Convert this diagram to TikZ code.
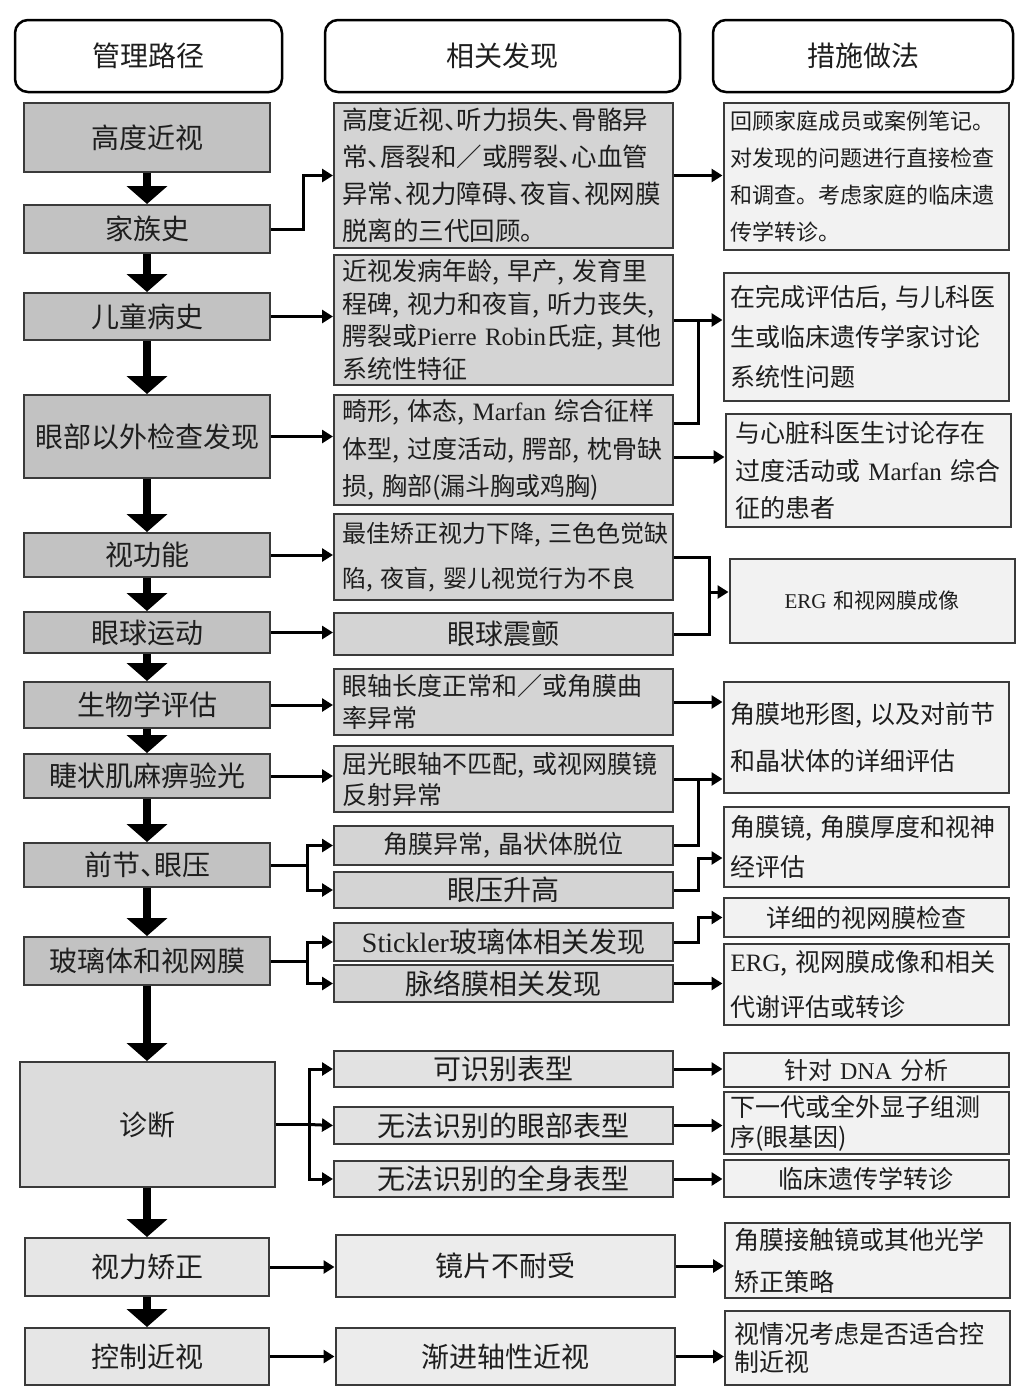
\documentclass[tikz,border=0pt]{standalone}
\usepackage{fontspec}
\setmainfont{Noto Sans CJK SC}
\newfontfamily\westfont{Liberation Serif}
\usetikzlibrary{arrows.meta}

\definecolor{ink}{HTML}{1E1E1E}
\definecolor{edge}{HTML}{3A3A3A}
\definecolor{pathfill}{HTML}{C2C2C2}
\definecolor{diagfill}{HTML}{DCDCDC}
\definecolor{lowfill}{HTML}{E6E6E6}
\definecolor{findfill}{HTML}{D4D4D4}
\definecolor{findlow}{HTML}{E2E2E2}
\definecolor{findlast}{HTML}{ECECEC}
\definecolor{actfill}{HTML}{F2F2F2}

% enumeration comma, half width
\newcommand{\dn}{\makebox[0.5em][l]{、}}

\begin{document}
\begin{tikzpicture}[x=1pt,y=-1pt,
  every node/.style={text=ink},
  head/.style={draw=black, line width=2.5pt, rounded corners=13pt, fill=white,
    minimum height=72pt, inner sep=0pt, font=\fontsize{28pt}{30pt}\selectfont},
  pathbox/.style={draw=edge, line width=2pt, fill=pathfill, inner sep=0pt,
    minimum width=246pt, font=\fontsize{28pt}{30pt}\selectfont},
  findbox/.style={draw=edge, line width=2pt, fill=findfill, inner xsep=8pt, inner ysep=0pt,
    minimum width=339pt, text width=323pt, align=left, font=\fontsize{25pt}{37pt}\selectfont},
  actbox/.style={draw=edge, line width=2pt, fill=actfill, inner xsep=7pt, inner ysep=0pt,
    minimum width=285pt, text width=271pt, align=left, font=\fontsize{25pt}{40pt}\selectfont},
  big/.style={font=\fontsize{28pt}{30pt}\selectfont, align=center},
  flow/.style={line width=3pt, -{Triangle[width=13pt,length=11pt]}},
  link/.style={line width=3pt},
  down/.style={line width=8pt, -{Triangle[width=40pt,length=18pt]}}
]
\path[fill=white] (0,0) rectangle (1029,1395);
\useasboundingbox (0,0) rectangle (1029,1395);

% 表头
\node[head, minimum width=267pt] (h1) at (148.5,56) {管理路径};
\node[head, minimum width=355pt] (h2) at (502.5,56) {相关发现};
\node[head, minimum width=300pt] (h3) at (863,56) {措施做法};

% 管理路径
\node[pathbox, minimum height=69pt] (myo) at (147,137.5) {高度近视};
\node[pathbox, minimum height=48pt] (fam) at (147,229) {家族史};
\node[pathbox, minimum height=47pt] (child) at (147,316.5) {儿童病史};
\node[pathbox, minimum height=83pt] (extra) at (147,436.5) {眼部以外检查发现};
\node[pathbox, minimum height=44pt] (vis) at (147,555) {视功能};
\node[pathbox, minimum height=41pt] (mot) at (147,632.5) {眼球运动};
\node[pathbox, minimum height=46pt] (bio) at (147,705) {生物学评估};
\node[pathbox, minimum height=44pt] (refr) at (147,776) {睫状肌麻痹验光};
\node[pathbox, minimum height=44pt] (ant) at (147,865) {前节\dn 眼压};
\node[pathbox, minimum height=48pt] (vit) at (147,961) {玻璃体和视网膜};
\node[pathbox, fill=diagfill, minimum width=255pt, minimum height=125pt] (diag) at (147,1124.5) {诊断};
\node[pathbox, fill=lowfill, minimum width=244pt, minimum height=58pt] (corr) at (147,1267) {视力矫正};
\node[pathbox, fill=lowfill, minimum width=244pt, minimum height=57pt] (ctrl) at (147,1356.5) {控制近视};

% 相关发现
\node[findbox, minimum height=145pt, font=\fontsize{25.5pt}{37pt}\selectfont] (f1) at (503.5,175.5)
  {高度近视\dn 听力损失\dn 骨骼异\\常\dn 唇裂和／或腭裂\dn 心血管\\异常\dn 视力障碍\dn 夜盲\dn 视网膜\\脱离的三代回顾。};
\node[findbox, minimum height=130pt, font=\fontsize{25pt}{32.5pt}\selectfont] (f2) at (503.5,320)
  {近视发病年龄,~早产,~发育里\\程碑,~视力和夜盲,~听力丧失,\\腭裂或{\westfont Pierre Robin}氏症,~其他\\系统性特征};
\node[findbox, minimum height=110pt, font=\fontsize{25pt}{37.5pt}\selectfont] (f3) at (503.5,450)
  {畸形,~体态,~{\westfont Marfan}~综合征样\\体型,~过度活动,~腭部,~枕骨缺\\损,~胸部(漏斗胸或鸡胸)};
\node[findbox, minimum height=86pt, font=\fontsize{24pt}{45pt}\selectfont] (f4) at (503.5,557)
  {最佳矫正视力下降,~三色色觉缺\\陷,~夜盲,~婴儿视觉行为不良};
\node[findbox, big, minimum height=42pt] (f5) at (503.5,634) {眼球震颤};
\node[findbox, minimum height=66pt, font=\fontsize{25pt}{32pt}\selectfont] (f6) at (503.5,702)
  {眼轴长度正常和／或角膜曲\\率异常};
\node[findbox, minimum height=66pt, font=\fontsize{25pt}{31pt}\selectfont] (f7) at (503.5,779)
  {屈光眼轴不匹配,~或视网膜镜\\反射异常};
\node[findbox, minimum height=39pt, align=center, font=\fontsize{25pt}{28pt}\selectfont] (f8) at (503.5,845.5)
  {角膜异常,~晶状体脱位};
\node[findbox, big, minimum height=36pt] (f9) at (503.5,890) {眼压升高};
\node[findbox, big, minimum height=38pt] (f10) at (503.5,942) {{\westfont Stickler}玻璃体相关发现};
\node[findbox, big, minimum height=37pt] (f11) at (503.5,983.5) {脉络膜相关发现};
\node[findbox, big, fill=findlow, minimum height=36pt] (f12) at (503.5,1069) {可识别表型};
\node[findbox, big, fill=findlow, minimum height=37pt] (f13) at (503.5,1125.5) {无法识别的眼部表型};
\node[findbox, big, fill=findlow, minimum height=36pt] (f14) at (503.5,1179) {无法识别的全身表型};
\node[findbox, big, fill=findlast, minimum height=62pt] (f15) at (505,1266) {镜片不耐受};
\node[findbox, big, fill=findlast, minimum height=57pt] (f16) at (505,1356.5) {渐进轴性近视};

% 措施做法
\node[actbox, minimum height=147pt, font=\fontsize{22pt}{37pt}\selectfont] (a1) at (866,176.5)
  {回顾家庭成员或案例笔记。\\对发现的问题进行直接检查\\和调查。考虑家庭的临床遗\\传学转诊。};
\node[actbox, minimum height=128pt] (a2) at (866,337)
  {在完成评估后,~与儿科医\\生或临床遗传学家讨论\\系统性问题};
\node[actbox, minimum height=113pt, text width=266pt, font=\fontsize{25pt}{37.5pt}\selectfont] (a3) at (868,470.5)
  {与心脏科医生讨论存在\\过度活动或~{\westfont Marfan}~综合\\征的患者};
\node[actbox, minimum height=84pt, text width=261pt, align=center, font=\fontsize{21pt}{24pt}\selectfont] (a4) at (872,601)
  {{\westfont ERG}~和视网膜成像};
\node[actbox, minimum height=111pt, font=\fontsize{25pt}{47pt}\selectfont] (a5) at (866,737.5)
  {角膜地形图,~以及对前节\\和晶状体的详细评估};
\node[actbox, minimum height=80pt] (a6) at (866,847)
  {角膜镜,~角膜厚度和视神\\经评估};
\node[actbox, minimum height=39pt, align=center] (a7) at (866,917.5) {详细的视网膜检查};
\node[actbox, minimum height=81pt, font=\fontsize{25pt}{45pt}\selectfont] (a8) at (866,984.5)
  {{\westfont ERG},~视网膜成像和相关\\代谢评估或转诊};
\node[actbox, minimum height=34pt, align=center, font=\fontsize{24pt}{26pt}\selectfont] (a9) at (866,1070)
  {针对~{\westfont DNA}~分析};
\node[actbox, minimum height=62pt, font=\fontsize{25pt}{30pt}\selectfont] (a10) at (866,1123)
  {下一代或全外显子组测\\序(眼基因)};
\node[actbox, minimum height=37pt, align=center] (a11) at (866,1178.5) {临床遗传学转诊};
\node[actbox, minimum height=75pt, text width=267pt, font=\fontsize{25pt}{42pt}\selectfont] (a12) at (867.5,1260.5)
  {角膜接触镜或其他光学\\矫正策略};
\node[actbox, minimum height=74pt, text width=267pt, font=\fontsize{25pt}{28pt}\selectfont] (a13) at (867.5,1348)
  {视情况考虑是否适合控\\制近视};

% 主干箭头
\draw[down] (myo.south) -- (fam.north);
\draw[down] (fam.south) -- (child.north);
\draw[down] (child.south) -- (extra.north);
\draw[down] (extra.south) -- (vis.north);
\draw[down] (vis.south) -- (mot.north);
\draw[down] (mot.south) -- (bio.north);
\draw[down] (bio.south) -- (refr.north);
\draw[down] (refr.south) -- (ant.north);
\draw[down] (ant.south) -- (vit.north);
\draw[down] (vit.south) -- (diag.north);
\draw[down] (diag.south) -- (corr.north);
\draw[down] (corr.south) -- (ctrl.north);

% 管理路径 -> 相关发现
\draw[flow] (fam.east) -- ++(32pt,0) |- (f1.west);
\draw[flow] (child.east) -- (child.east -| f2.west);
\draw[flow] (extra.east) -- (extra.east -| f3.west);
\draw[flow] (vis.east) -- (vis.east -| f4.west);
\draw[flow] (mot.east) -- (mot.east -| f5.west);
\draw[flow] (bio.east) -- (bio.east -| f6.west);
\draw[flow] (refr.east) -- (refr.east -| f7.west);

\coordinate (s9) at ([xshift=36pt]ant.east);
\draw[link] (ant.east) -- (s9);
\draw[flow] (s9) |- (f8.west);
\draw[flow] (s9) |- (f9.west);

\coordinate (s10) at ([xshift=36pt]vit.east);
\draw[link] (vit.east) -- (s10);
\draw[flow] (s10) |- (f10.west);
\draw[flow] (s10) |- (f11.west);

\coordinate (s11) at ([xshift=34pt]diag.east);
\draw[link] (diag.east) -- (s11);
\draw[flow] (s11) |- (f12.west);
\draw[flow] (s11) -- (f13.west);
\draw[flow] (s11) |- (f14.west);

\draw[flow] (corr.east) -- (corr.east -| f15.west);
\draw[flow] (ctrl.east) -- (ctrl.east -| f16.west);

% 相关发现 -> 措施做法
\draw[flow] (f1.east) -- (f1.east -| a1.west);

\coordinate (j2) at ([xshift=24pt]f2.east);
\draw[flow] (f2.east) -- (f2.east -| a2.west);
\draw[link] ([yshift=27pt]f3.east) -| (j2);
\draw[flow] ([yshift=-7pt]f3.east) -- ([yshift=-7pt]f3.east -| a3.west);

\coordinate (j4) at (709,592);
\draw[link] (f4.east) -| (j4);
\draw[link] (f5.east) -| (j4);
\draw[flow] (j4) -- (j4 -| a4.west);

\draw[flow] (f6.east) -- (f6.east -| a5.west);
\coordinate (j7) at ([xshift=24pt]f7.east);
\draw[flow] (f7.east) -- (f7.east -| a5.west);
\draw[link] (f8.east) -| (j7);

\draw[flow] (f9.east) -- ++(24pt,0) |- ([yshift=-11pt]a6.west);
\draw[flow] (f10.east) -- ++(24pt,0) |- (a7.west);
\draw[flow] (f11.east) -- (f11.east -| a8.west);

\draw[flow] (f12.east) -- (f12.east -| a9.west);
\draw[flow] (f13.east) -- (f13.east -| a10.west);
\draw[flow] (f14.east) -- (f14.east -| a11.west);
\draw[flow] (f15.east) -- (f15.east -| a12.west);
\draw[flow] (f16.east) -- (f16.east -| a13.west);
\end{tikzpicture}
\end{document}
